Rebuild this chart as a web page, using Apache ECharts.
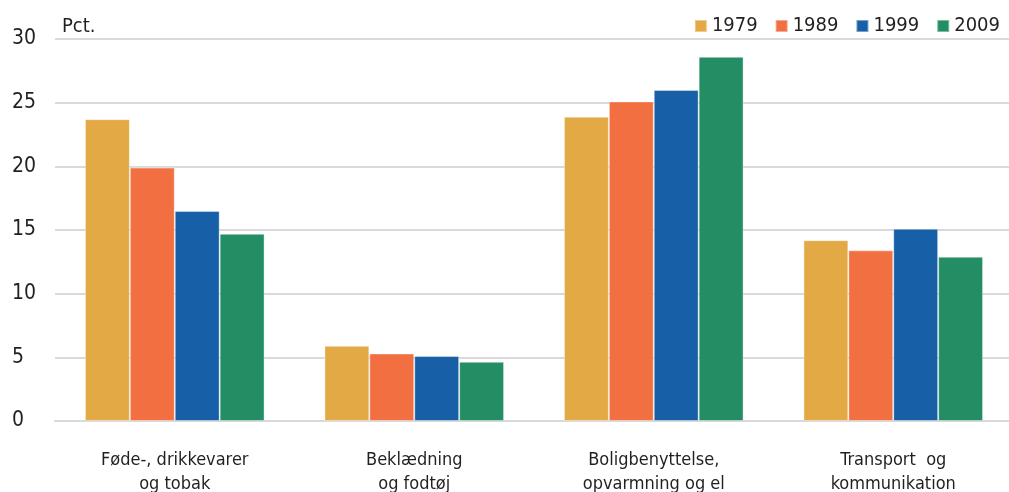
<!DOCTYPE html>
<html>
<head>
<meta charset="utf-8">
<script src="https://cdn.jsdelivr.net/npm/echarts@6/dist/echarts.min.js"></script>
<style>
  html, body { margin: 0; padding: 0; background: #fff; }
  #chart { width: 1009px; height: 492px; }
</style>
</head>
<body>
<div id="chart"></div>
<script>
// kategorier og andel (pct.)
const categories = ['Føde-, drikkevarer\nog tobak', 'Beklædning\nog fodtøj', 'Boligbenyttelse,\nopvarmning og el', 'Transport  og\nkommunikation']
const years = ['1979', '1989', '1999', '2009']
const v1979 = [23.7, 5.9, 23.9, 14.2]
const v1989 = [19.9, 5.3, 25.1, 13.4]
const v1999 = [16.5, 5.1, 26.0, 15.1]
const v2009 = [14.7, 4.65, 28.6, 12.9]
const yTicks = [0, 5, 10, 15, 20, 25, 30]

const colors = ['#E3A945', '#F26F42', '#175FA6', '#238E63']
const font = '"DejaVu Sans Condensed", "Liberation Sans Narrow", sans-serif'

const myChart = echarts.init(document.getElementById('chart'))

const values = [v1979, v1989, v1999, v2009]

myChart.setOption({
  animation: false,
  color: colors,
  textStyle: { fontFamily: font, color: '#231f20' },
  title: {
    text: 'Pct.',
    left: 57,
    top: 12,
    textStyle: { fontFamily: font, fontSize: 20, fontWeight: 'normal', color: '#231f20' }
  },
  legend: {
    data: years,
    right: 4,
    top: 11,
    icon: 'rect',
    itemWidth: 12,
    itemHeight: 12,
    itemGap: 17,
    textStyle: { fontFamily: font, fontSize: 20, color: '#231f20' }
  },
  grid: {
    left: 55,
    top: 39,
    bottom: 71,
    width: 958,
    outerBoundsMode: 'none'
  },
  xAxis: {
    type: 'category',
    data: categories,
    axisTick: { show: false },
    axisLine: { lineStyle: { color: '#d9d9d9', width: 2 } },
    axisLabel: {
      margin: 27,
      fontFamily: font,
      fontSize: 18,
      lineHeight: 24,
      color: '#231f20'
    }
  },
  yAxis: {
    type: 'value',
    min: yTicks[0],
    max: yTicks[yTicks.length - 1],
    interval: 5,
    axisLine: { show: false },
    axisTick: { show: false },
    splitLine: { lineStyle: { color: '#d9d9d9', width: 2 } },
    axisLabel: {
      align: 'left',
      margin: 43,
      fontFamily: font,
      fontSize: 21,
      color: '#231f20'
    }
  },
  series: years.map((y, i) => ({
    name: y,
    type: 'bar',
    data: values[i],
    barGap: '0%',
    barCategoryGap: '25%',
    itemStyle: { borderColor: 'rgba(255,255,255,0.4)', borderWidth: 1 }
  }))
})
</script>
</body>
</html>
